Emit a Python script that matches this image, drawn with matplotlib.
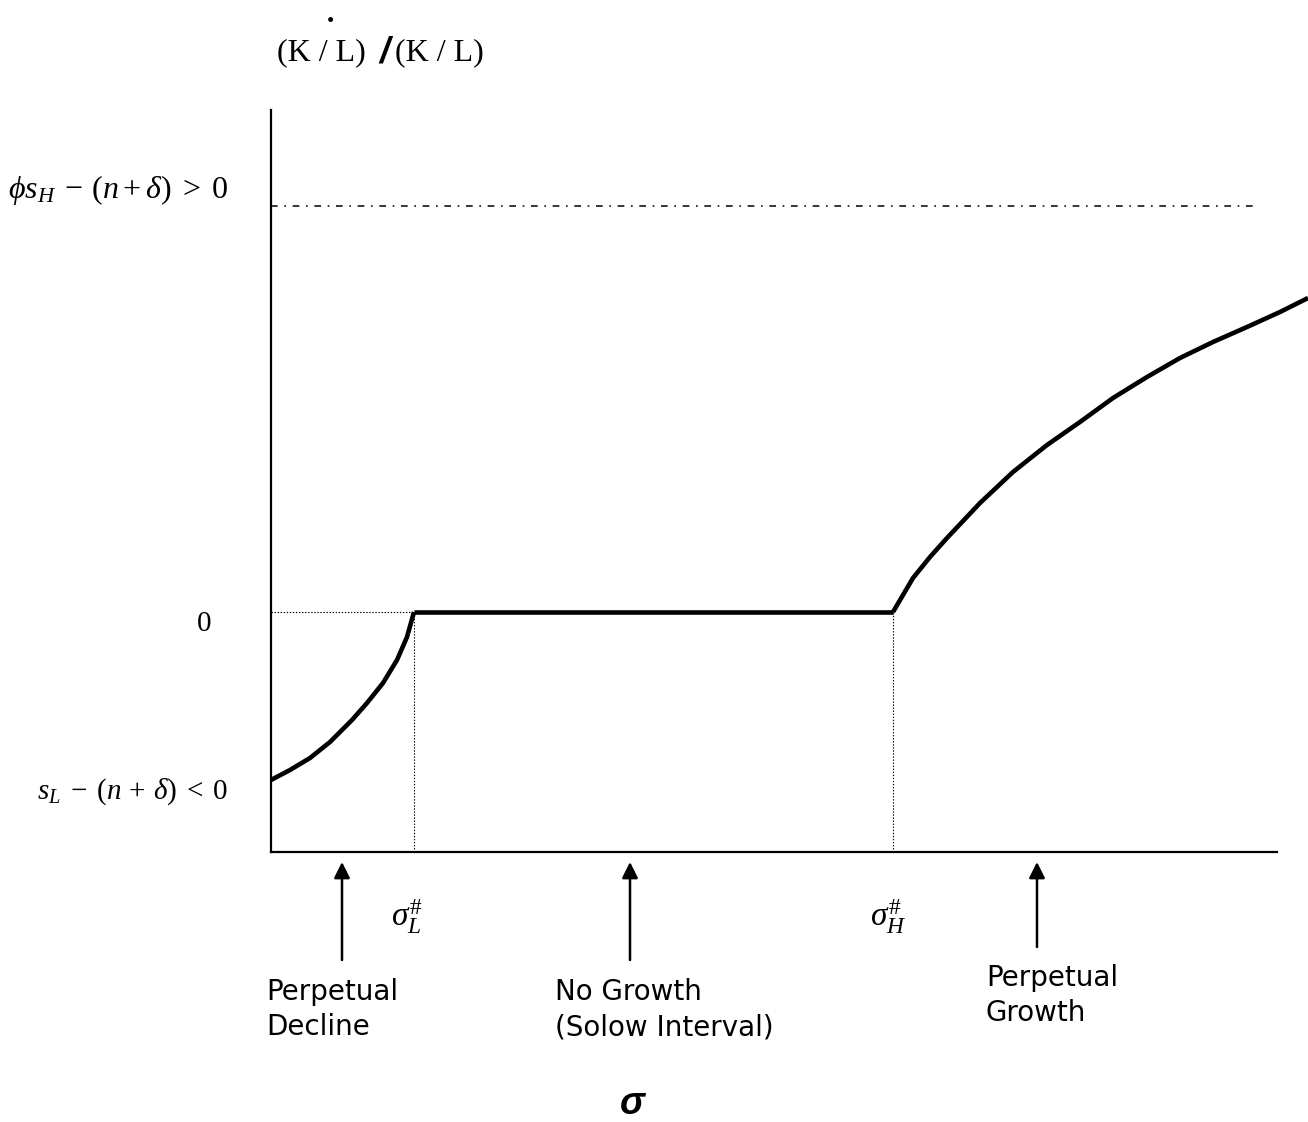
import matplotlib
matplotlib.use('Agg')
import matplotlib.pyplot as plt
import numpy as np

plt.rcParams['mathtext.fontset'] = 'custom'
plt.rcParams['mathtext.rm'] = 'Liberation Serif'
plt.rcParams['mathtext.it'] = 'Liberation Serif:italic'
plt.rcParams['mathtext.bf'] = 'Liberation Serif:bold'
plt.rcParams['lines.scale_dashes'] = False

# sigma on x, growth rate of K/L on y (units)
sigma_L = 1.43
sigma_H = 6.22
low_rate = -1.68     # s_L - (n + delta)
high_rate = 4.06     # phi s_H - (n + delta)

decline_x = [0.0, 0.19, 0.39, 0.59, 0.81, 0.96, 1.12, 1.26, 1.36, 1.43]
decline_y = [-1.68, -1.58, -1.46, -1.30, -1.08, -0.91, -0.71, -0.48, -0.25, 0.0]
growth_x = [6.22, 6.42, 6.59, 6.76, 7.09, 7.42, 7.76, 8.09, 8.42, 8.76, 9.09, 9.42, 9.76, 10.09, 10.37]
growth_y = [0.0, 0.34, 0.55, 0.74, 1.09, 1.40, 1.67, 1.90, 2.14, 2.35, 2.54, 2.70, 2.85, 3.00, 3.14]

region_x = [0.71, 3.59, 7.66]
region_tail = [-3.48, -3.48, -3.35]
region_labels = ['Perpetual\nDecline', 'No Growth\n(Solow Interval)', 'Perpetual\nGrowth']
region_text_x = [-0.05, 2.84, 7.15]
region_text_y = [-3.66, -3.66, -3.52]

W, H = 1308, 1122
fig = plt.figure(figsize=(W / 100, H / 100), dpi=100)
ax = fig.add_axes([271 / W, (H - 852) / H, (1277 - 271) / W, (852 - 110) / H])
ax.set_xlim(0, 10.06)
ax.set_ylim(-2.4, 5.02)
for s in ['top', 'right']:
    ax.spines[s].set_visible(False)
for s in ['left', 'bottom']:
    ax.spines[s].set_linewidth(1.6)
ax.set_xticks([])
ax.set_yticks([])

# the curve
kw = dict(color='black', lw=3.3, solid_capstyle='butt', solid_joinstyle='round')
ax.plot(decline_x, decline_y, clip_on=False, **kw)
ax.plot([sigma_L, sigma_H], [0, 0], **kw)
ax.plot(growth_x, growth_y, clip_on=False, **kw)

# guides
ax.plot([0, sigma_L], [0, 0], color='black', lw=0.8, ls=(0, (1, 1.2)))
ax.plot([sigma_L, sigma_L], [-2.4, 0], color='black', lw=0.8, ls=(0, (1, 1.2)))
ax.plot([sigma_H, sigma_H], [-2.4, 0], color='black', lw=0.8, ls=(0, (1, 1.2)))
ax.plot([0, 9.82], [high_rate, high_rate], color='black', lw=1.1, ls=(0, (4.8, 4.8, 1.2, 4.8)))

# y labels
ax.text(-0.43, high_rate + 0.16, r'$\phi s_H\; -\, (n + \delta)\; >\; 0$', ha='right', va='center',
        fontsize=23, clip_on=False)
ax.text(-0.67, -0.12, '0', ha='center', va='center', fontsize=21,
        family='Liberation Serif', clip_on=False)
ax.text(-0.43, low_rate - 0.12, r'$s_L\; -\; (n\, +\, \delta)\; <\; 0$', ha='right', va='center',
        fontsize=21, clip_on=False)

# sigma markers
ax.text(1.36, -3.05, r'$\sigma_L^{\#}$', ha='center', va='center', fontsize=24, clip_on=False)
ax.text(6.17, -3.05, r'$\sigma_H^{\#}$', ha='center', va='center', fontsize=24, clip_on=False)

# arrows and region labels
for x, tail, lab, tx, ty in zip(region_x, region_tail, region_labels, region_text_x, region_text_y):
    ax.annotate('', xy=(x, -2.5), xytext=(x, tail), annotation_clip=False,
                arrowprops=dict(arrowstyle='-|>', color='black', lw=1.8,
                                mutation_scale=24, shrinkA=0, shrinkB=0))
    ax.text(tx, ty, lab, ha='left', va='top', fontsize=20, family='DejaVu Sans',
            linespacing=1.32, clip_on=False)

# x axis symbol
ax.text(3.61, -4.92, 'σ', ha='center', va='center', fontsize=27, clip_on=False,
        family='Liberation Sans', fontweight='bold', style='italic')

# y axis title
ty = 1 - 53 / H
fig.text(277 / W, ty, '(K / L)', ha='left', va='center', fontsize=23, family='Liberation Serif')
fig.text(384 / W, ty, '/', ha='center', va='center', fontsize=26, family='Liberation Sans',
         fontweight='bold', style='italic')
fig.text(395 / W, ty, '(K / L)', ha='left', va='center', fontsize=23, family='Liberation Serif')
fig.text(330 / W, 1 - 27 / H, '•', ha='center', va='baseline', fontsize=15,
         family='Liberation Serif')

fig.savefig('out.png', dpi=100)
